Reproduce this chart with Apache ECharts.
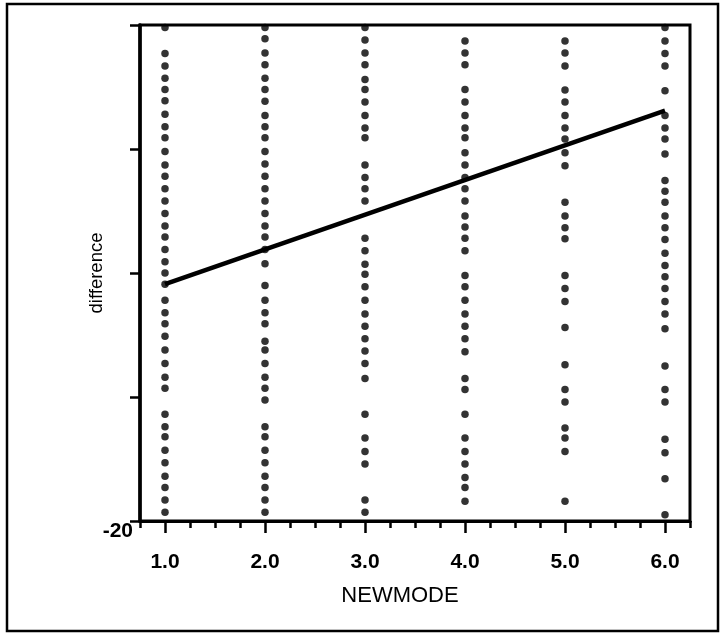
<!DOCTYPE html>
<html><head><meta charset="utf-8">
<script src="https://cdn.jsdelivr.net/npm/echarts@6/dist/echarts.min.js"></script>
<style>html,body{margin:0;padding:0;background:#fff}#c{width:723px;height:636px}</style>
</head><body><div id="c"></div>
<script>
// NEWMODE categories (x positions of the dot columns)
const newmode = [1, 2, 3, 4, 5, 6];
// "difference" values
const diff1 = [19.8,17.7,16.7,15.7,14.8,13.9,12.8,11.8,10.9,9.8,8.7,7.8,6.8,5.8,4.8,3.8,2.9,1.9,0.9,0.0,-0.9,-2.2,-3.2,-4.1,-5.1,-6.2,-7.3,-8.4,-9.3,-11.4,-12.4,-13.2,-14.3,-15.3,-16.4,-17.3,-18.3,-19.3];
const diff2 = [19.8,18.9,17.75,16.8,15.7,14.8,13.85,12.7,11.8,10.9,9.8,8.8,7.8,6.8,5.8,4.8,3.8,2.9,1.9,0.75,-1.0,-2.2,-3.2,-4.1,-5.5,-6.2,-7.3,-8.4,-9.3,-10.25,-12.4,-13.2,-14.3,-15.3,-16.4,-17.3,-18.3,-19.3];
const diff3 = [19.8,18.8,17.75,16.8,15.6,14.8,13.8,12.7,11.7,10.9,8.7,7.7,6.8,5.8,2.8,1.8,0.7,-0.1,-1.1,-2.2,-3.3,-4.3,-5.3,-6.3,-7.3,-8.5,-11.4,-13.3,-14.4,-15.4,-18.3,-19.3];
const diff4 = [18.7,17.75,16.8,14.8,13.8,12.7,11.7,10.9,9.7,8.7,7.7,6.8,5.8,4.6,3.7,2.8,1.8,-0.2,-1.1,-2.2,-3.3,-4.3,-5.3,-6.35,-8.5,-9.4,-11.4,-13.3,-14.4,-15.4,-16.5,-17.3,-18.4];
const diff5 = [18.7,17.75,16.7,14.75,13.8,12.7,11.7,10.8,9.7,8.65,5.7,4.6,3.65,2.76,-0.2,-1.25,-2.3,-4.4,-7.4,-9.4,-10.4,-12.5,-13.3,-14.4,-18.4];
const diff6 = [19.8,18.7,17.7,16.7,14.7,12.7,11.7,10.8,9.6,7.45,6.6,5.7,4.6,3.65,2.7,1.6,0.6,-0.3,-1.25,-2.3,-3.3,-4.5,-7.5,-9.4,-10.4,-13.4,-14.5,-16.6,-19.5];
const diffColumns = [diff1, diff2, diff3, diff4, diff5, diff6];
// fitted regression line
const fitX = [1, 6];
const fitY = [-0.9, 13.1];
// tick labels
const xTickValues = [1, 2, 3, 4, 5, 6];
const yTickLabels = {'-20': '-20'};

const points = [];
diffColumns.forEach((col, i) => col.forEach(v => points.push([newmode[i], v])));
const fitData = fitX.map((x, i) => [x, fitY[i]]);

const chart = echarts.init(document.getElementById('c'), null, {renderer: 'canvas'});
const font = 'Liberation Sans, Arial, sans-serif';
chart.setOption({
  animation: false,
  backgroundColor: '#fff',
  graphic: [{
    type: 'rect', z: 100,
    shape: {x: 7, y: 4, width: 711, height: 627},
    style: {fill: 'none', stroke: '#000', lineWidth: 2.5}
  }],
  grid: [
    {left: 140, top: 25, right: 33, bottom: 115, show: true, borderColor: '#000', borderWidth: 3, backgroundColor: 'transparent'},
    {left: 140, top: 25, right: 33, bottom: 115, show: false}
  ],
  xAxis: [{
    type: 'value', gridIndex: 0, min: 0.75, max: 6.25, position: 'bottom',
    axisLine: {show: true, onZero: false, lineStyle: {color: '#000', width: 3}},
    axisTick: {show: true, customValues: xTickValues, length: 12, lineStyle: {color: '#000', width: 2.5}},
    axisLabel: {customValues: xTickValues, formatter: v => Number(v).toFixed(1), color: '#000', fontSize: 21, fontWeight: 'bold', fontFamily: font, margin: 31},
    splitLine: {show: false},
    name: 'NEWMODE', nameLocation: 'middle', nameGap: 64,
    nameTextStyle: {color: '#000', fontSize: 22, fontFamily: font, padding: [0, 30, 0, 0]}
  }, {
    type: 'value', gridIndex: 1, min: 0.75, max: 6.25, interval: 0.25, position: 'bottom',
    axisLine: {show: false, onZero: false},
    axisTick: {show: true, length: 7, lineStyle: {color: '#000', width: 2.5}},
    axisLabel: {show: false}, splitLine: {show: false}
  }],
  yAxis: [{
    type: 'value', gridIndex: 0, min: -20, max: 20, interval: 10,
    axisLine: {show: true, onZero: false, lineStyle: {color: '#000', width: 3.5}},
    axisTick: {show: true, length: 10, lineStyle: {color: '#000', width: 2.5}},
    axisLabel: {formatter: v => yTickLabels[String(v)] || '', color: '#000', fontSize: 21, fontWeight: 'bold', fontFamily: font, margin: 7, verticalAlign: 'top'},
    splitLine: {show: false},
    name: 'difference', nameLocation: 'middle', nameRotate: 90, nameGap: 34, nameMoveOverlap: false,
    nameTextStyle: {color: '#000', fontSize: 18.5, fontFamily: font}
  }, {
    type: 'value', gridIndex: 1, min: -20, max: 20, show: false
  }],
  series: [{
    type: 'scatter', xAxisIndex: 0, yAxisIndex: 0, data: points,
    symbol: 'circle', symbolSize: 7.5, itemStyle: {color: '#000'}, clip: false
  }, {
    type: 'line', xAxisIndex: 0, yAxisIndex: 0, data: fitData, symbol: 'none',
    lineStyle: {color: '#000', width: 4.5}, z: 5
  }]
});
</script></body></html>
